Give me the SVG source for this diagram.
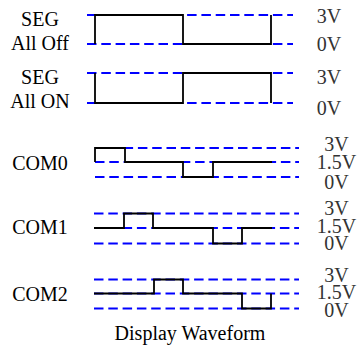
<svg xmlns="http://www.w3.org/2000/svg" width="359" height="351" viewBox="0 0 359 351">
<style>
text{font-family:'Liberation Serif','DejaVu Serif',serif}
.lbl{font-size:20px;fill:#000;text-anchor:middle}
.v{font-size:20px;fill:#333;text-anchor:middle}
.ref{stroke:#0000ff;stroke-width:2;stroke-dasharray:9.5 4.8;fill:none}
.wave{stroke:#000;stroke-width:1.8;fill:none;stroke-linejoin:miter}
</style>
<rect width="359" height="351" fill="#fff"/>
<g id="seg-off">
<text class="lbl" x="40" y="26" font-family="Liberation Serif, serif">SEG</text>
<text class="lbl" x="40" y="50" font-family="Liberation Serif, serif">All Off</text>
<line class="ref" x1="87" y1="15" x2="293" y2="15"/>
<line class="ref" x1="87" y1="44" x2="293" y2="44"/>
<polyline class="wave" points="95,44 95,15 183,15 183,44 271,44 271,15"/>
<text class="v" x="329" y="23" font-family="Liberation Serif, serif">3V</text>
<text class="v" x="329" y="51" font-family="Liberation Serif, serif">0V</text>
</g>
<g id="seg-on">
<text class="lbl" x="40" y="84" font-family="Liberation Serif, serif">SEG</text>
<text class="lbl" x="40" y="108" font-family="Liberation Serif, serif">All ON</text>
<line class="ref" x1="87" y1="73" x2="293" y2="73"/>
<line class="ref" x1="87" y1="103" x2="293" y2="103"/>
<polyline class="wave" points="95,73 95,103 183,103 183,73 271,73 271,103"/>
<text class="v" x="329" y="84" font-family="Liberation Serif, serif">3V</text>
<text class="v" x="329" y="115" font-family="Liberation Serif, serif">0V</text>
</g>
<g id="com0">
<text class="lbl" x="40" y="170" font-family="Liberation Serif, serif">COM0</text>
<line class="ref" x1="95" y1="148" x2="299" y2="148"/>
<line class="ref" x1="95" y1="162" x2="299" y2="162"/>
<line class="ref" x1="95" y1="177" x2="299" y2="177"/>
<polyline class="wave" points="95,162 95,148 125,148 125,162 183,162 183,177 213,177 213,162 272,162"/>
<text class="v" x="336.5" y="151" font-family="Liberation Serif, serif">3V</text>
<text class="v" x="336.5" y="169" font-family="Liberation Serif, serif">1.5V</text>
<text class="v" x="336.5" y="189" font-family="Liberation Serif, serif">0V</text>
</g>
<g id="com1">
<text class="lbl" x="40" y="234" font-family="Liberation Serif, serif">COM1</text>
<line class="ref" x1="94" y1="213.5" x2="299" y2="213.5"/>
<line class="ref" x1="94" y1="228" x2="299" y2="228"/>
<line class="ref" x1="94" y1="243.5" x2="299" y2="243.5"/>
<polyline class="wave" points="94,228 124,228 124,213.5 153,213.5 153,228 213,228 213,243.5 242,243.5 242,228 272,228"/>
<text class="v" x="336.5" y="215" font-family="Liberation Serif, serif">3V</text>
<text class="v" x="336.5" y="233" font-family="Liberation Serif, serif">1.5V</text>
<text class="v" x="336.5" y="250" font-family="Liberation Serif, serif">0V</text>
</g>
<g id="com2">
<text class="lbl" x="40" y="301" font-family="Liberation Serif, serif">COM2</text>
<line class="ref" x1="94" y1="279.5" x2="299" y2="279.5"/>
<line class="ref" x1="94" y1="293.5" x2="299" y2="293.5"/>
<line class="ref" x1="94" y1="308.5" x2="299" y2="308.5"/>
<polyline class="wave" points="94,293.5 154,293.5 154,279.5 183,279.5 183,293.5 242,293.5 242,308.5 271,308.5 271,293.5"/>
<text class="v" x="336.5" y="282" font-family="Liberation Serif, serif">3V</text>
<text class="v" x="336.5" y="299" font-family="Liberation Serif, serif">1.5V</text>
<text class="v" x="336.5" y="317" font-family="Liberation Serif, serif">0V</text>
</g>
<g id="title">
<text class="lbl" x="190" y="340" font-family="Liberation Serif, serif">Display Waveform</text>
</g>
</svg>
